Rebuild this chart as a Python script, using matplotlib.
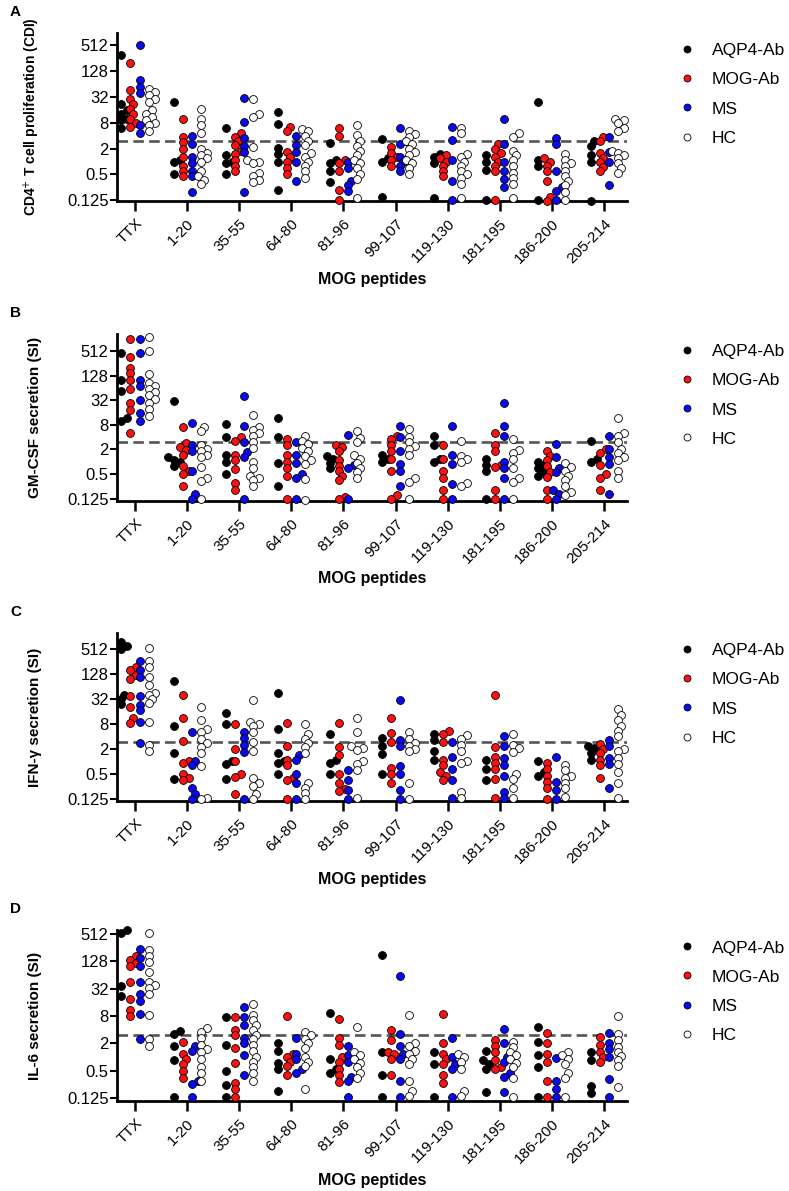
import numpy as np
import matplotlib
matplotlib.use('Agg')
import matplotlib.pyplot as plt
from matplotlib.lines import Line2D

plt.rcParams['font.family'] = ['Liberation Sans', 'DejaVu Sans']

peptides = ['TTX', '1-20', '35-55', '64-80', '81-96', '99-107',
            '119-130', '181-195', '186-200', '205-214']
groups = ['AQP4-Ab', 'MOG-Ab', 'MS', 'HC']
threshold = 3

# A: CD4+ T cell proliferation (CDI)
cd4_aqp4 = [[300, 22, 16, 13, 10, 9, 6], [24, 1.1, 1.0, 0.5], [6, 1.4, 1.0, 0.9, 0.5],
            [14, 7.5, 2.1, 1.5, 1.0, 0.22], [2.7, 1.1, 0.9, 0.6, 0.33], [3.3, 1.2, 1.0, 0.15],
            [1.5, 1.3, 0.9, 0.14], [1.4, 1.0, 0.65, 0.13], [24, 1.1, 0.8, 0.125],
            [3.0, 2.3, 1.4, 0.95, 0.12]]
cd4_mog = [[200, 45, 28, 22, 17, 13, 10, 8, 6.5], [9.5, 3.8, 2.8, 2.0, 1.3, 0.8, 0.6, 0.45],
           [4.5, 3.8, 3.0, 2.4, 1.8, 1.5, 1.1, 0.8, 0.6], [6.5, 5, 1.7, 1.3, 1.0, 0.7, 0.5],
           [6, 4, 1.1, 0.9, 0.6, 0.22, 0.13], [2.2, 1.6, 1.3, 1.1, 0.8],
           [1.4, 1.2, 1.0, 0.8, 0.6, 0.45], [2.6, 2.0, 1.6, 1.3, 1.0, 0.8, 0.6, 0.125],
           [1.2, 1.0, 0.8, 0.6, 0.35, 0.15, 0.12], [3.8, 3.0, 1.6, 1.2, 0.95, 0.75, 0.6]]
cd4_ms = [[500, 80, 55, 40, 7, 4.6], [4, 2.6, 1.3, 0.9, 0.6, 0.45, 0.2], [30, 8.5, 3.5, 2.3, 1.7, 0.2],
          [4, 2.4, 1.7, 1.0, 0.35], [0.95, 0.7, 0.35, 0.28, 0.21], [6, 3, 2.5, 1.3, 1.0, 0.8, 0.6],
          [6.5, 3.2, 1.1, 0.35, 0.125], [9.5, 2.5, 1.0, 0.6, 0.4, 0.25],
          [3.6, 2.6, 0.6, 0.25, 0.21, 0.125], [3.8, 1.7, 1.0, 0.28]]
cd4_hc = [[48, 42, 35, 28, 24, 16, 13, 11, 9, 8, 7, 5],
          [17, 10, 7, 4.5, 2, 1.6, 1.4, 1.2, 1.0, 0.6, 0.45, 0.38, 0.3],
          [29, 13, 11, 2.2, 1.1, 1.0, 0.9, 0.55, 0.45, 0.38, 0.33],
          [5.8, 5, 4, 3, 2.4, 1.6, 1.3, 1.0, 0.8, 0.6, 0.42],
          [7, 4.2, 3, 2.3, 1.8, 1.4, 1.1, 0.9, 0.7, 0.5, 0.4, 0.14],
          [5, 4.3, 3.8, 3.0, 2.6, 2.0, 1.7, 1.4, 1.1, 0.9, 0.7, 0.5],
          [6, 4.5, 1.5, 1.3, 1.0, 0.8, 0.6, 0.5, 0.42, 0.3, 0.14],
          [4.5, 3.8, 1.8, 1.4, 1.1, 0.8, 0.55, 0.42, 0.3, 0.14],
          [1.5, 1.1, 0.9, 0.8, 0.6, 0.45, 0.35, 0.28, 0.2, 0.13],
          [10, 9, 8, 6, 5, 1.8, 1.6, 1.4, 1.2, 0.9, 0.7, 0.55]]

# B: GM-CSF secretion (SI)
gm_aqp4 = [[450, 100, 55, 12, 10], [30, 1.3, 1.1, 1.0, 0.8], [8.5, 4.0, 1.5, 1.0, 0.5],
           [12, 4, 0.95, 0.25], [1.4, 1.2, 0.95, 0.7], [1.5, 1.2, 1.0], [4.2, 2.5, 1.2, 1.0],
           [1.2, 0.85, 0.6, 0.125], [1.0, 0.85, 0.7, 0.55, 0.45], [3.3, 1.2, 1.0]]
gm_mog = [[1000, 370, 200, 150, 100, 60, 28, 18, 5], [7, 2.8, 2.3, 1.9, 1.5, 0.8, 0.6, 0.5, 0.25],
          [4.0, 3.2, 1.5, 1.1, 0.65, 0.3, 0.2], [3.5, 2.5, 1.5, 1.0, 0.7, 0.45, 0.125],
          [2.6, 2.3, 1.8, 1.1, 0.8, 0.6, 0.45, 0.35, 0.135, 0.12],
          [4.2, 3.5, 2.6, 1.8, 1.2, 0.6, 0.15, 0.125], [2.5, 1.2, 0.6, 0.4, 0.2, 0.125],
          [5, 2.5, 1.8, 0.85, 0.75, 0.2, 0.125], [1.8, 1.4, 1.1, 0.8, 0.55, 0.42, 0.2, 0.125],
          [2.0, 1.6, 0.85, 0.5, 0.4, 0.2]]
gm_ms = [[1000, 450, 100, 70, 33, 16, 10], [9, 2.5, 1.8, 0.6, 0.16, 0.125], [40, 7.5, 3, 1.7, 1.3, 0.125],
         [3, 1.5, 0.95, 0.5, 0.4, 0.125], [4.6, 0.85, 0.7, 0.125], [7.5, 4, 1.8, 0.9, 0.6, 0.26],
         [7.5, 1.5, 0.9, 0.28, 0.125], [28, 7.5, 4.3, 1.0, 0.7, 0.4, 0.125],
         [2.7, 1.3, 0.7, 0.55, 0.2, 0.16, 0.125], [4.2, 2.0, 1.3, 0.9, 0.16]]
gm_hc = [[1100, 520, 140, 85, 70, 60, 50, 42, 35, 28, 20, 13],
         [7, 5.5, 2.5, 2.0, 1.8, 1.5, 1.3, 0.75, 0.4, 0.33, 0.125],
         [14, 7, 6, 5, 4.2, 3, 2.2, 1.0, 0.7, 0.45, 0.4, 0.35, 0.25],
         [4.2, 3.3, 2.7, 2.2, 1.8, 1.4, 1.1, 0.9, 0.38, 0.115],
         [5.5, 3.8, 3, 1.5, 1.2, 0.95, 0.7, 0.55, 0.4],
         [6.5, 4.0, 3.0, 2.4, 2.0, 1.5, 0.4, 0.32, 0.125],
         [3.2, 1.4, 1.2, 1.0, 0.3, 0.25],
         [3.7, 1.9, 1.6, 1.2, 0.7, 0.4, 0.32, 0.125],
         [0.95, 0.75, 0.6, 0.45, 0.35, 0.25, 0.18, 0.15],
         [12, 5, 4.3, 3.1, 2.1, 1.6, 1.3, 1.1, 0.6, 0.4]]

# C: IFN-gamma secretion (SI)
ifn_aqp4 = [[750, 620, 530, 40, 32, 24], [85, 7, 1.6, 0.37], [15, 8, 1.0, 0.85, 0.37],
            [45, 6, 1.6, 1.0, 0.9, 0.5], [4.5, 1.1, 0.9, 0.5], [3.6, 2.4, 1.5, 0.5],
            [4.5, 3.3, 1.8, 1.1], [1.1, 0.65, 0.35], [1.0, 0.55, 0.45], [2.4, 2.1, 1.6, 1.1]]
ifn_mog = [[190, 160, 120, 100, 38, 20, 11, 8.5], [40, 11, 3.1, 1.0, 0.9, 0.5, 0.4, 0.35],
           [8, 2.0, 1.0, 0.5, 0.42, 0.16], [8.5, 2.3, 1.1, 0.8, 0.4, 0.35, 0.125],
           [8.5, 2.2, 1.4, 0.5, 0.3, 0.21, 0.19], [11, 4.8, 3.0, 0.7, 0.5, 0.3],
           [5.5, 4.5, 3.0, 1.1, 0.8, 0.55, 0.45, 0.35], [40, 2.2, 1.3, 0.9, 0.65, 0.38, 0.13],
           [0.9, 0.65, 0.45, 0.32, 0.22, 0.125], [2.6, 2.0, 1.6, 1.1, 0.8, 0.4]]
ifn_ms = [[270, 160, 110, 38, 23, 17, 9, 2.7], [5, 1.0, 0.8, 0.22, 0.16, 0.125], [5, 3.6, 2.5, 1.7, 0.125],
          [1.4, 1.1, 0.5, 0.3, 0.125], [0.6, 0.35, 0.2, 0.125], [30, 3.2, 2.3, 0.75, 0.5, 0.2, 0.125],
          [3.0, 1.3, 0.65, 0.35, 0.13], [4, 2.3, 1.2, 0.8, 0.45, 0.18, 0.13],
          [1.3, 0.32, 0.2, 0.125], [3.3, 2.4, 1.2, 0.85, 0.22]]
ifn_hc = [[550, 270, 190, 110, 70, 45, 40, 32, 25, 9, 2.5, 1.8],
          [20, 10, 6, 5, 3.5, 2.7, 2.2, 1.6, 0.75, 0.13, 0.12],
          [30, 9, 8, 7, 5, 3, 1.8, 0.4, 0.3, 0.25, 0.16, 0.125],
          [8, 4.5, 3.5, 2.8, 2.2, 1.6, 0.3, 0.23, 0.17, 0.125],
          [11, 5, 2.3, 2.1, 1.9, 1.0, 0.85, 0.6, 0.13],
          [5, 3.5, 2.8, 2.4, 2.0, 1.8, 0.3, 0.125],
          [4.2, 3.5, 2.5, 1.8, 1.0, 0.9, 0.18, 0.13],
          [4.5, 2.5, 2.1, 1.7, 0.5, 0.38, 0.23, 0.13],
          [0.8, 0.6, 0.45, 0.4, 0.3, 0.22, 0.14],
          [18, 13, 10, 7, 5.5, 4, 2.0, 1.8, 1.2, 0.85, 0.55, 0.3, 0.13]]

# D: IL-6 secretion (SI)
il6_aqp4 = [[620, 540, 36, 22], [3.7, 3.2, 1.8, 0.85, 0.13], [7.5, 1.9, 0.5, 0.25, 0.13],
            [2.0, 1.4, 0.75, 0.55, 0.18], [9.5, 0.9, 0.55, 0.45], [180, 1.3, 0.4, 0.13],
            [1.3, 0.7, 0.13], [1.4, 0.85, 0.7, 0.55, 0.17], [4.5, 2.2, 1.1, 0.6, 0.13],
            [1.3, 0.85, 0.23, 0.16]]
il6_mog = [[170, 140, 120, 100, 45, 19, 11, 8], [2.2, 1.2, 0.9, 0.7, 0.5, 0.35],
           [7.5, 4, 3, 1.6, 0.75, 0.27, 0.2, 0.13], [8, 1.2, 1.0, 0.8, 0.65, 0.4],
           [7, 2.6, 1.9, 1.0, 0.8, 0.55, 0.4, 0.28], [4, 2.4, 1.3, 1.15, 0.9, 0.4],
           [9, 2.0, 1.2, 0.9, 0.7, 0.4, 0.27], [2.4, 1.8, 1.3, 0.85, 0.6, 0.55],
           [3.4, 2.1, 1.2, 0.8, 0.3, 0.13], [2.8, 1.9, 1.3, 1.0, 0.8]]
il6_ms = [[240, 150, 100, 45, 25, 17, 9, 2.5], [1.8, 1.4, 0.3, 0.26, 0.13], [13, 7.5, 5, 2.7, 2.0, 1.1, 0.4],
          [2.6, 1.2, 0.9, 0.55, 0.45], [1.8, 1.1, 0.8, 0.37, 0.3, 0.13], [60, 3.3, 1.8, 1.15, 0.9, 0.3, 0.13],
          [2.7, 1.0, 0.7, 0.55, 0.13], [4.2, 2.1, 1.0, 0.8, 0.45, 0.37, 0.17],
          [0.95, 0.3, 0.2, 0.13], [3.4, 2.1, 1.5, 1.0, 0.33, 0.13]]
il6_hc = [[540, 230, 170, 125, 75, 45, 38, 33, 25, 8.5, 2.5, 1.8],
          [4.3, 3.6, 2.6, 1.9, 1.5, 1.3, 0.9, 0.6, 0.45, 0.3],
          [15, 8.5, 6.5, 5, 4, 3.1, 2.5, 1.9, 1.4, 1.0, 0.8, 0.6, 0.45, 0.3],
          [3.6, 3.0, 2.5, 2.0, 1.6, 1.0, 0.8, 0.65, 0.2],
          [4.5, 1.3, 1.1, 0.9, 0.75, 0.6, 0.45, 0.35],
          [8.5, 2.1, 1.8, 1.4, 1.2, 0.9, 0.7, 0.3, 0.18, 0.14],
          [1.15, 1.0, 0.8, 0.55, 0.18, 0.14],
          [2.2, 1.7, 1.3, 1.1, 0.9, 0.75, 0.6, 0.35, 0.13],
          [1.3, 1.1, 0.9, 0.7, 0.45, 0.35, 0.13],
          [8, 3.3, 2.4, 1.7, 1.3, 1.05, 0.85, 0.65, 0.22]]

panels = [
    ('A', 'CD4$^{+}$ T cell proliferation (CDI)', 10, [cd4_aqp4, cd4_mog, cd4_ms, cd4_hc]),
    ('B', 'GM-CSF secretion (SI)', 11, [gm_aqp4, gm_mog, gm_ms, gm_hc]),
    ('C', 'IFN-γ secretion (SI)', 11, [ifn_aqp4, ifn_mog, ifn_ms, ifn_hc]),
    ('D', 'IL-6 secretion (SI)', 11, [il6_aqp4, il6_mog, il6_ms, il6_hc]),
]

face = ['#000000', '#ff1010', '#0a0af0', '#ffffff']
offsets = [-0.26, -0.087, 0.087, 0.26]
# axes boxes in pixels: (top, bottom) and log2 y-limits
boxes = [(33, 201), (334, 501), (633, 801), (930, 1101)]
ylims = [(-3.05, 9.93), (-3.19, 10.38), (-3.19, 10.3), (-3.2, 9.29)]
W, H = 789, 1191


def swarm(ax, xc, vals, step=3.0, mind=5.0):
    pts = ax.transData.transform([(xc, v) for v in vals])
    ys = pts[:, 1]
    xs = np.zeros(len(vals))
    placed = []
    for i in np.argsort(ys):
        for c in [0, 1, -1, 2, -2, 3, -3, 4, -4]:
            xp = c * step
            if all((xp - px) ** 2 + (ys[i] - py) ** 2 >= mind ** 2 for px, py in placed):
                break
        placed.append((xp, ys[i]))
        xs[i] = xp
    back = ax.transData.inverted().transform(np.column_stack([pts[:, 0] + xs, ys]))
    return back[:, 0]


fig = plt.figure(figsize=(W / 100, H / 100), dpi=100)

for (letter, ylabel, ylsize, series), (top, bot), (lo, hi) in zip(panels, boxes, ylims):
    ax = fig.add_axes([117 / W, (H - bot) / H, 510 / W, (bot - top) / H])
    ax.set_yscale('log', base=2)
    ax.set_ylim(2 ** lo, 2 ** hi)
    ax.set_xlim(-0.345, 9.44)
    ax.axhline(threshold, color='#555555', lw=1.9, ls=(0, (4, 2)), zorder=1)

    for g, data in enumerate(series):
        for i, vals in enumerate(data):
            xs = swarm(ax, i + offsets[g], vals)
            ax.scatter(xs, vals, s=32, c=face[g], edgecolors='black', linewidths=0.6,
                       zorder=3, clip_on=False)

    ax.spines['top'].set_visible(False)
    ax.spines['right'].set_visible(False)
    ax.spines['left'].set_linewidth(2)
    ax.spines['bottom'].set_linewidth(2)
    ax.set_yticks([0.125, 0.5, 2, 8, 32, 128, 512])
    ax.set_yticklabels(['0.125', '0.5', '2', '8', '32', '128', '512'])
    ax.yaxis.set_minor_locator(plt.NullLocator())
    ax.tick_params(axis='y', length=5, width=1.5, labelsize=12, pad=1)
    ax.set_xticks(range(len(peptides)))
    ax.set_xticklabels(peptides, rotation=45, ha='right', rotation_mode='anchor')
    ax.tick_params(axis='x', length=7, width=1.8, labelsize=11, pad=4)

    ax.set_ylabel(ylabel, fontsize=ylsize, fontweight='bold')
    ax.yaxis.set_label_coords(-0.147, 0.5)
    ax.set_xlabel('MOG peptides', fontsize=11.5, fontweight='bold')
    ax.xaxis.set_label_coords(0.5, -0.42)

    fig.text(10 / W, 1 - (top - 21) / H, letter, fontsize=11, fontweight='bold', va='center')

    handles = [Line2D([], [], ls='none', marker='o', markersize=5, markerfacecolor=face[g],
                      markeredgecolor='black', markeredgewidth=0.6) for g in range(4)]
    ax.legend(handles, groups, loc='upper left', bbox_to_anchor=(554.3 / 510, 0.98),
              frameon=False, fontsize=12.5, handlelength=1.0, handletextpad=0.95,
              labelspacing=0.8, borderaxespad=0)

fig.savefig('out.png', dpi=100)
